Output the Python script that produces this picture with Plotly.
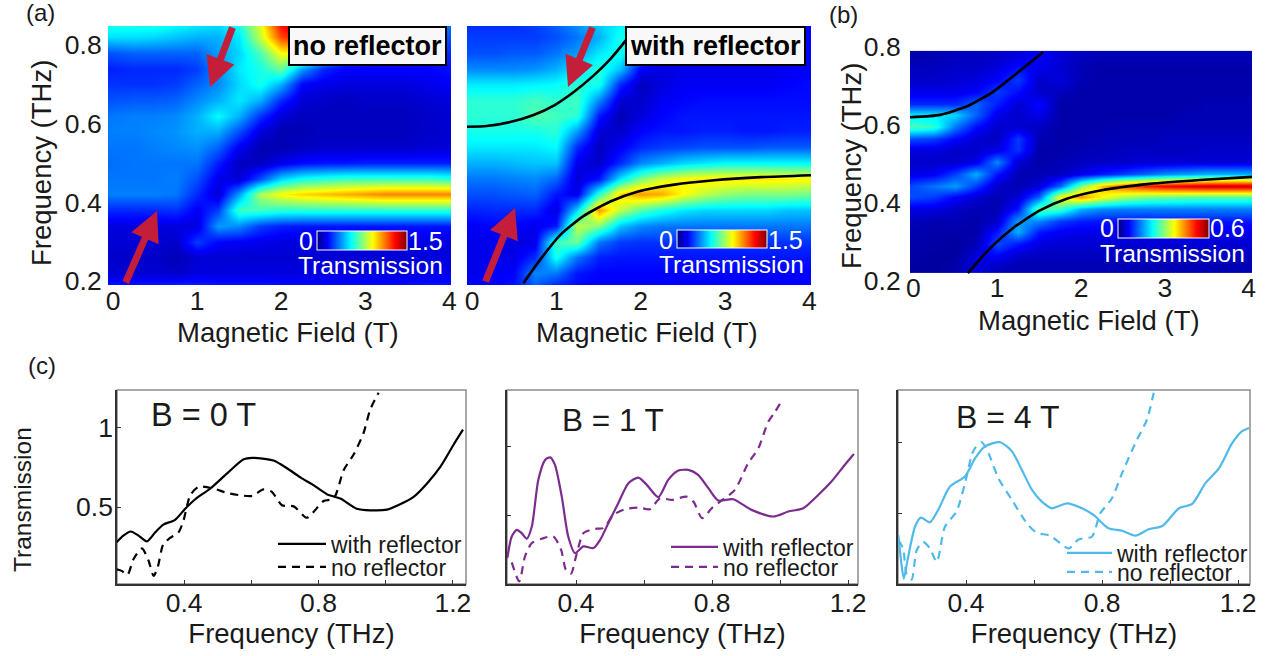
import numpy as np
import plotly.graph_objects as go

W, H = 1275, 656
FONT = "Liberation Sans"

# ---------- heat maps: values in percent of each colour bar's full scale
field_cols = [-0.1, 0.25, 0.5, 0.75, 1, 1.25, 1.5, 1.75, 2, 2.25, 2.5, 2.75, 3, 3.25, 3.5, 3.75, 4.1]
freq_rows_a = [.86, .82, .78, .74, .70, .66, .62, .58, .54, .50, .46, .42, .38, .34, .30, .26, .22, .18]
freq_rows_b = [.775, .745, .715, .685, .655, .625, .595, .565, .535, .505, .475, .445, .415, .385, .355, .325, .295, .265, .235]

no_reflector_pct = [
    [42, 42, 42, 40, 38, 36, 42, 60, 88, 98, 95, 70, 40, 30, 25, 25, 25],
    [35, 35, 34, 32, 30, 30, 36, 56, 80, 88, 80, 50, 30, 22, 20, 20, 20],
    [20, 22, 22, 22, 22, 28, 34, 45, 62, 62, 40, 22, 16, 16, 16, 16, 16],
    [15, 16, 16, 16, 18, 26, 36, 40, 48, 28, 16, 12, 12, 12, 12, 12, 14],
    [17, 17, 17, 18, 22, 26, 34, 40, 30, 12, 10, 9, 9, 9, 9, 10, 12],
    [20, 21, 21, 22, 26, 30, 36, 30, 16, 8, 7, 6, 7, 7, 7, 8, 9],
    [24, 25, 25, 26, 30, 38, 30, 17, 8, 6, 6, 6, 6, 6, 6, 7, 8],
    [25, 25, 26, 27, 30, 30, 20, 9, 5, 5, 6, 6, 6, 6, 6, 7, 8],
    [24, 24, 25, 26, 27, 22, 11, 5, 5, 6, 7, 7, 7, 7, 7, 8, 8],
    [23, 24, 24, 24, 24, 15, 6, 6, 10, 13, 14, 14, 15, 15, 15, 15, 15],
    [24, 24, 24, 25, 20, 10, 8, 20, 34, 40, 42, 44, 44, 44, 44, 44, 42],
    [25, 25, 25, 24, 16, 8, 28, 54, 62, 66, 68, 70, 72, 74, 74, 74, 74],
    [16, 16, 16, 17, 11, 18, 44, 44, 42, 42, 42, 42, 42, 42, 42, 42, 42],
    [9, 9, 9, 9, 9, 28, 26, 18, 15, 14, 14, 14, 14, 14, 14, 14, 14],
    [8, 8, 8, 7, 18, 12, 11, 10, 9, 9, 9, 9, 9, 9, 9, 9, 9],
    [7, 7, 7, 5, 8, 8, 8, 8, 8, 8, 8, 8, 8, 8, 8, 9, 9],
    [8, 8, 8, 7, 9, 9, 9, 9, 9, 9, 9, 9, 9, 9, 9, 10, 10],
    [16, 16, 16, 18, 17, 16, 16, 16, 15, 15, 15, 15, 15, 15, 15, 15, 15],
]
with_reflector_pct = [
    [16, 16, 16, 18, 22, 28, 34, 36, 34, 24, 14, 12, 12, 12, 12, 12, 12],
    [18, 18, 18, 18, 20, 24, 30, 40, 34, 16, 11, 11, 11, 11, 12, 12, 12],
    [20, 20, 21, 21, 24, 28, 36, 40, 24, 11, 10, 10, 10, 10, 11, 11, 12],
    [26, 26, 26, 27, 30, 36, 42, 32, 11, 9, 10, 10, 10, 10, 10, 11, 12],
    [36, 36, 36, 37, 38, 42, 40, 16, 6, 9, 11, 11, 11, 11, 11, 12, 13],
    [42, 42, 42, 44, 42, 44, 26, 8, 7, 11, 12, 13, 13, 13, 13, 13, 13],
    [42, 42, 42, 46, 44, 42, 14, 5, 9, 12, 14, 14, 14, 14, 14, 14, 14],
    [40, 40, 40, 40, 42, 28, 8, 7, 12, 14, 14, 15, 15, 14, 14, 15, 15],
    [36, 36, 36, 36, 38, 16, 6, 11, 16, 18, 19, 20, 20, 20, 21, 21, 21],
    [30, 30, 31, 32, 32, 10, 7, 16, 26, 30, 34, 36, 38, 38, 38, 38, 38],
    [24, 24, 25, 26, 22, 8, 14, 36, 50, 58, 62, 64, 64, 64, 64, 63, 62],
    [20, 20, 21, 22, 14, 10, 42, 66, 72, 70, 62, 56, 52, 50, 50, 50, 48],
    [15, 16, 16, 16, 9, 34, 72, 56, 46, 40, 36, 34, 34, 34, 34, 32, 32],
    [11, 12, 12, 10, 14, 56, 50, 32, 26, 24, 24, 24, 24, 24, 24, 24, 24],
    [10, 10, 9, 10, 44, 48, 24, 18, 17, 17, 17, 17, 17, 17, 17, 17, 17],
    [10, 10, 10, 16, 40, 24, 15, 14, 14, 14, 14, 14, 14, 14, 14, 14, 14],
    [10, 11, 12, 26, 24, 14, 12, 12, 12, 12, 12, 12, 12, 12, 12, 12, 12],
    [12, 12, 14, 20, 13, 12, 12, 12, 12, 12, 12, 12, 12, 12, 12, 12, 12],
]
simulation_pct = [
    [4, 5, 6, 6, 7, 9, 12, 8, 6, 5, 5, 5, 5, 5, 5, 5, 5],
    [6, 6, 7, 7, 9, 14, 10, 8, 5, 4, 4, 4, 4, 4, 4, 4, 4],
    [7, 7, 8, 9, 12, 18, 7, 9, 5, 4, 4, 4, 4, 4, 4, 4, 4],
    [10, 10, 10, 12, 18, 13, 7, 6, 4, 4, 4, 4, 4, 4, 4, 4, 4],
    [16, 16, 16, 22, 15, 8, 13, 4, 4, 4, 4, 4, 4, 4, 5, 5, 5],
    [36, 36, 34, 22, 10, 7, 10, 4, 4, 4, 4, 4, 4, 5, 5, 5, 5],
    [46, 42, 24, 13, 7, 8, 6, 4, 4, 4, 5, 5, 5, 5, 5, 5, 5],
    [20, 18, 12, 8, 6, 18, 5, 4, 4, 5, 5, 5, 6, 6, 6, 6, 6],
    [9, 9, 7, 7, 10, 17, 4, 4, 5, 5, 6, 6, 6, 6, 7, 7, 7],
    [7, 7, 7, 10, 26, 8, 4, 5, 6, 7, 7, 8, 8, 8, 8, 8, 8],
    [9, 11, 18, 30, 14, 5, 5, 6, 10, 14, 18, 22, 26, 28, 30, 30, 30],
    [18, 24, 28, 18, 7, 5, 8, 22, 50, 68, 78, 84, 88, 90, 92, 92, 92],
    [20, 18, 12, 8, 5, 8, 22, 62, 72, 62, 54, 50, 48, 47, 46, 46, 46],
    [10, 9, 7, 5, 5, 14, 48, 44, 30, 26, 25, 25, 25, 25, 25, 25, 25],
    [6, 5, 5, 4, 7, 28, 26, 18, 15, 14, 14, 14, 14, 14, 14, 14, 14],
    [5, 4, 4, 4, 14, 30, 14, 11, 10, 10, 10, 10, 10, 10, 10, 10, 10],
    [4, 4, 3, 5, 20, 14, 9, 8, 8, 8, 8, 8, 8, 8, 8, 8, 8],
    [4, 3, 3, 9, 12, 7, 6, 6, 6, 6, 6, 6, 6, 6, 6, 6, 6],
    [3, 3, 4, 9, 6, 5, 5, 5, 5, 5, 5, 5, 5, 5, 5, 5, 5],
]

# ---------- fitted polariton branches (black lines)
a_upper_b = [-0.06, .174, .452, .73, .97, 1.21, 1.44, 1.64, 1.8, 1.96]
a_upper_f = [.592, .594, .604, .622, .646, .681, .722, .764, .805, .851]
a_lower_b = [.61, .81, 1.05, 1.32, 1.64, 1.96, 2.4, 2.87, 3.43, 4.02]
a_lower_f = [.195, .255, .318, .365, .402, .427, .445, .456, .464, .469]
b_upper_b = [-0.04, .32, .64, .95, 1.19, 1.55]
b_upper_f = [.62, .626, .648, .685, .725, .787]
b_lower_b = [.65, .92, 1.19, 1.51, 1.83, 2.23, 2.82, 3.42, 4.04]
b_lower_f = [.22, .285, .336, .381, .411, .432, .449, .459, .467]

# ---------- panel (c) spectra
c0_with_f = [.199, .219, .241, .264, .289, .314, .338, .373, .403, .433, .478, .528, .577, .602, .666, .706, .746, .785, .825, .865, .914, .954, 1.004, 1.043, 1.083, 1.123, 1.163, 1.202, 1.230]
c0_with_t = [.277, .319, .345, .319, .283, .340, .389, .419, .489, .549, .617, .713, .802, .811, .794, .745, .687, .638, .581, .553, .489, .479, .483, .517, .564, .649, .755, .894, .989]
c0_no_f = [.199, .214, .231, .249, .274, .294, .309, .321, .338, .358, .383, .398, .418, .443, .487, .527, .567, .602, .636, .661, .691, .726, .765, .785, .815, .845, .875, .904, .934, .954, .979]
c0_no_t = [.106, .096, .070, .170, .238, .160, .064, .117, .266, .304, .340, .415, .574, .628, .617, .589, .574, .570, .611, .596, .511, .504, .432, .468, .538, .553, .734, .830, .968, 1.117, 1.223]

c1_with_f = [.198, .211, .226, .240, .255, .270, .289, .309, .324, .338, .358, .377, .397, .422, .451, .471, .495, .524, .554, .583, .608, .642, .671, .701, .730, .759, .789, .818, .862, .916, .980, 1.024, 1.068, 1.112, 1.151, 1.190, 1.217]
c1_with_t = [.195, .351, .399, .375, .334, .423, .760, .904, .923, .868, .639, .351, .231, .279, .267, .327, .447, .591, .736, .776, .724, .635, .760, .827, .832, .796, .700, .611, .620, .543, .495, .531, .555, .651, .748, .868, .947]
c1_no_f = [.211, .233, .250, .270, .299, .333, .356, .370, .385, .400, .422, .456, .480, .510, .544, .583, .617, .647, .681, .725, .745, .771, .799, .828, .867, .906, .936, .965, .985, 1.009]
c1_no_t = [.163, .026, .207, .303, .334, .351, .255, .111, .082, .207, .375, .406, .411, .507, .548, .560, .548, .627, .615, .639, .603, .483, .555, .611, .688, .880, .988, 1.180, 1.252, 1.349]

c4_with_f = [.201, .210, .217, .228, .250, .267, .294, .318, .353, .397, .427, .456, .500, .535, .564, .594, .623, .652, .697, .741, .775, .819, .859, .898, .937, .977, 1.026, 1.065, 1.104, 1.144, 1.183, 1.212, 1.232]
c4_with_t = [.351, .151, .045, .175, .410, .474, .441, .528, .693, .764, .894, .976, 1.005, .941, .811, .670, .587, .540, .575, .540, .493, .399, .382, .347, .392, .415, .540, .571, .717, .823, 1.000, 1.083, 1.106]
c4_no_f = [.201, .215, .225, .240, .255, .274, .294, .314, .338, .372, .397, .417, .427, .446, .466, .495, .535, .579, .608, .648, .702, .731, .770, .795, .829, .859, .898, .932, .952]
c4_no_t = [.316, .257, .080, .038, .245, .304, .257, .163, .410, .517, .717, .917, .965, 1.005, .929, .752, .599, .434, .368, .347, .257, .321, .340, .505, .611, .788, 1.000, 1.165, 1.354]

field_ticks = [0, 1, 2, 3, 4]
freq_ticks = [.2, .4, .6, .8]
c_xticks = [.4, .6, .8, 1.0, 1.2]
c_xlabels = ["0.4", "", "0.8", "", "1.2"]

JET = [[0, "#000080"], [.12, "#0000ff"], [.38, "#00ffff"], [.62, "#ffff00"], [.87, "#ff0000"], [1, "#800000"]]
PURPLE = "#7b2d8e"
SKY = "#4fb9ea"
RED = "#c41e3a"
INK = "#1a1a1a"


def px(x):
    return x / W


def py(y):
    return 1 - y / H


fig = go.Figure()


def add_heat(axis, z_pct, rows, full, cb):
    z = np.array(z_pct) / 100 * full
    fig.add_trace(go.Heatmap(
        x=field_cols, y=rows, z=z, xaxis=f"x{axis}", yaxis=f"y{axis}",
        zmin=0, zmax=full, zsmooth="best", colorscale=JET, hoverinfo="skip",
        colorbar=dict(orientation="h", x=px(cb[0]), y=py(cb[2]), xanchor="left", yanchor="top",
                      lenmode="pixels", len=cb[1] - cb[0], thicknessmode="pixels", thickness=cb[3] - cb[2],
                      xpad=0, ypad=0, outlinecolor="white", outlinewidth=1, showticklabels=False, ticks=""),
    ))


add_heat("", no_reflector_pct, freq_rows_a, 1.5, (317, 407, 231, 250))
add_heat("2", with_reflector_pct, freq_rows_a, 1.5, (677, 767, 230, 248))
add_heat("3", simulation_pct, freq_rows_b, 0.6, (1118, 1209, 219, 238))

for ax, bx, fy in [("x2", a_upper_b, a_upper_f), ("x2", a_lower_b, a_lower_f),
                   ("x3", b_upper_b, b_upper_f), ("x3", b_lower_b, b_lower_f)]:
    fig.add_trace(go.Scatter(x=bx, y=fy, mode="lines", xaxis=ax, yaxis=ax.replace("x", "y"),
                             line=dict(color="black", width=2.6, shape="spline", smoothing=0.6),
                             showlegend=False, hoverinfo="skip"))

DASH = "8px,6px"
series = [
    ("4", c0_with_f, c0_with_t, "black", "solid", "with reflector", "legend", (273, 544), 48),
    ("4", c0_no_f, c0_no_t, "black", DASH, "no reflector", "legend2", (273, 567), 48),
    ("5", c1_with_f, c1_with_t, PURPLE, "solid", "with reflector", "legend3", (666, 547), 47),
    ("5", c1_no_f, c1_no_t, PURPLE, DASH, "no reflector", "legend4", (666, 567), 47),
    ("6", c4_with_f, c4_with_t, SKY, "solid", "with reflector", "legend5", (1062, 553), 45),
    ("6", c4_no_f, c4_no_t, SKY, DASH, "no reflector", "legend6", (1062, 572), 45),
]
legends = {}
for ax, f, t, color, dash, name, leg, pos, iw in series:
    fig.add_trace(go.Scatter(x=f, y=t, mode="lines", name=name, xaxis=f"x{ax}", yaxis=f"y{ax}",
                             line=dict(color=color, width=2.2, dash=dash, shape="spline", smoothing=0.7),
                             legend=leg, showlegend=True))
    legends[leg] = dict(x=px(pos[0]), y=py(pos[1]), xanchor="left", yanchor="middle", bgcolor="rgba(0,0,0,0)",
                        borderwidth=0, itemwidth=iw, font=dict(size=23, family=FONT, color=INK),
                        itemclick=False, itemdoubleclick=False)


def dom_x(a, b):
    return [a / W, b / W]


def dom_y(top, bottom):
    return [1 - bottom / H, 1 - top / H]


TICK = dict(family=FONT, size=26.5, color=INK)
TITLE = dict(family=FONT, size=27.5, color=INK)


def heat_x(dom, rng, standoff):
    return dict(domain=dom_x(*dom), range=rng, tickmode="array", tickvals=field_ticks, ticks="", ticklabelstandoff=standoff,
                tickfont=TICK, showgrid=False, zeroline=False, showline=False)


def heat_y(dom, rng, labels=True, ticklen=0):
    return dict(domain=dom_y(*dom), range=rng, tickmode="array", tickvals=freq_ticks, ticks="outside" if labels else "",
                ticklen=ticklen, tickcolor="rgba(0,0,0,0)", tickfont=TICK, showticklabels=labels, showgrid=False,
                zeroline=False, showline=False)


def spec_x(dom, rng):
    return dict(domain=dom_x(*dom), range=rng, tickmode="array", tickvals=c_xticks, ticktext=c_xlabels, ticks="inside",
                ticklen=4, tickwidth=1, tickcolor="#333", tickfont=TICK, ticklabelstandoff=-6, showgrid=False, zeroline=False,
                showline=True, linecolor="#333", linewidth=1.5,
                title=dict(text="Frequency (THz)", font=TITLE, standoff=4))


def spec_y(rng, anchor, labels):
    return dict(domain=dom_y(390, 584), range=rng, tickmode="array", tickvals=[.5, 1], ticktext=["0.5", "1"], ticks="inside",
                ticklen=4, tickwidth=1, tickcolor="#333", tickfont=TICK, ticklabelstandoff=-3, showticklabels=labels,
                showgrid=False, zeroline=False, showline=True, linecolor="#333", linewidth=1.5, anchor=anchor)


annots = []


def label(x, y, text, size=25, color="white", **kw):
    annots.append(dict(xref="paper", yref="paper", x=px(x), y=py(y), text=text, showarrow=False,
                       font=dict(family=FONT, size=size, color=color), xanchor="center",
                       yanchor="middle", **kw))


def arrow(x0, y0, x1, y1):
    annots.append(dict(xref="paper", yref="paper", axref="pixel", ayref="pixel", x=px(x1), y=py(y1), ax=x0 - x1, ay=y0 - y1,
                       text="", showarrow=True, arrowhead=2, arrowsize=0.85, arrowwidth=7, arrowcolor=RED, standoff=0))


for args in [(125, 284, 157, 211), (233, 26, 210, 87), (485, 283, 515, 208), (593, 26, 568, 87)]:
    arrow(*args)

label(40, 12, "(a)", 24, INK)
label(843, 15, "(b)", 24, INK)
label(42, 365, "(c)", 24, INK)
label(367, 46, "<b>no reflector</b>", 27, "black", bgcolor="#f8f8f8", bordercolor="black", borderwidth=2, borderpad=3)
label(715, 46, "<b>with reflector</b>", 27, "black", bgcolor="#f8f8f8", bordercolor="black", borderwidth=2, borderpad=3)
for x0, x1, xt, y, ty, hi in [(306, 425, 371, 241, 265, "1.5"), (666, 785, 731, 240, 264, "1.5"), (1107, 1227, 1172, 228, 253, "0.6")]:
    label(x0, y, "0")
    label(x1, y, hi)
    label(xt, ty, "Transmission", 24.5)
label(203, 415, "B = 0 T", 32.5, INK)
label(613, 420, "B = 1 T", 31.5, INK)
label(1008, 417, "B = 4 T", 32, INK)
for x, y in [(288, 332), (647, 332), (1089, 320)]:
    label(x, y, "Magnetic Field (T)", 27.5, INK)
label(41, 163, "Frequency (THz)", 27.5, INK, textangle=-90)
label(851, 166, "Frequency (THz)", 27.5, INK, textangle=-90)
label(22, 500, "Transmission", 24.5, INK, textangle=-90)

shapes = [dict(type="rect", xref=f"x{s} domain", yref=f"y{s} domain", x0=0, x1=1, y0=0, y1=1,
               line=dict(color="#8c8c8c", width=1.5), layer="below") for s in ["4", "5", "6"]]

fig.update_layout(
    width=W, height=H, margin=dict(l=0, r=0, t=0, b=0, autoexpand=False), paper_bgcolor="white", plot_bgcolor="white",
    font=dict(family=FONT), annotations=annots, shapes=shapes,
    xaxis=heat_x((108, 451), [-0.06, 4.02], -3),
    yaxis=heat_y((26, 285), [.19, .848]),
    xaxis2=heat_x((467, 811), [-0.06, 4.02], -3),
    yaxis2=heat_y((26, 285), [.19, .848], labels=False),
    xaxis3=heat_x((910, 1252), [-0.04, 4.04], -12),
    yaxis3=heat_y((47, 281), [.2, .8], ticklen=3),
    xaxis4=spec_x((117, 466), [.2, 1.239]), yaxis4=spec_y([.013, 1.24], "x4", True),
    xaxis5=spec_x((507, 858), [.197, 1.229]), yaxis5=spec_y([.007, 1.41], "x5", False),
    xaxis6=spec_x((898, 1250), [.2, 1.235]), yaxis6=spec_y([.007, 1.373], "x6", False),
    **legends,
)
fig.update_layout(xaxis=dict(anchor="y"), xaxis2=dict(anchor="y2"), xaxis3=dict(anchor="y3"),
                  xaxis4=dict(anchor="y4"), xaxis5=dict(anchor="y5"), xaxis6=dict(anchor="y6"),
                  yaxis2=dict(anchor="x2"), yaxis3=dict(anchor="x3"))

fig.write_html("out.html", post_script="document.body.style.margin='0';", config={"displayModeBar": False})
